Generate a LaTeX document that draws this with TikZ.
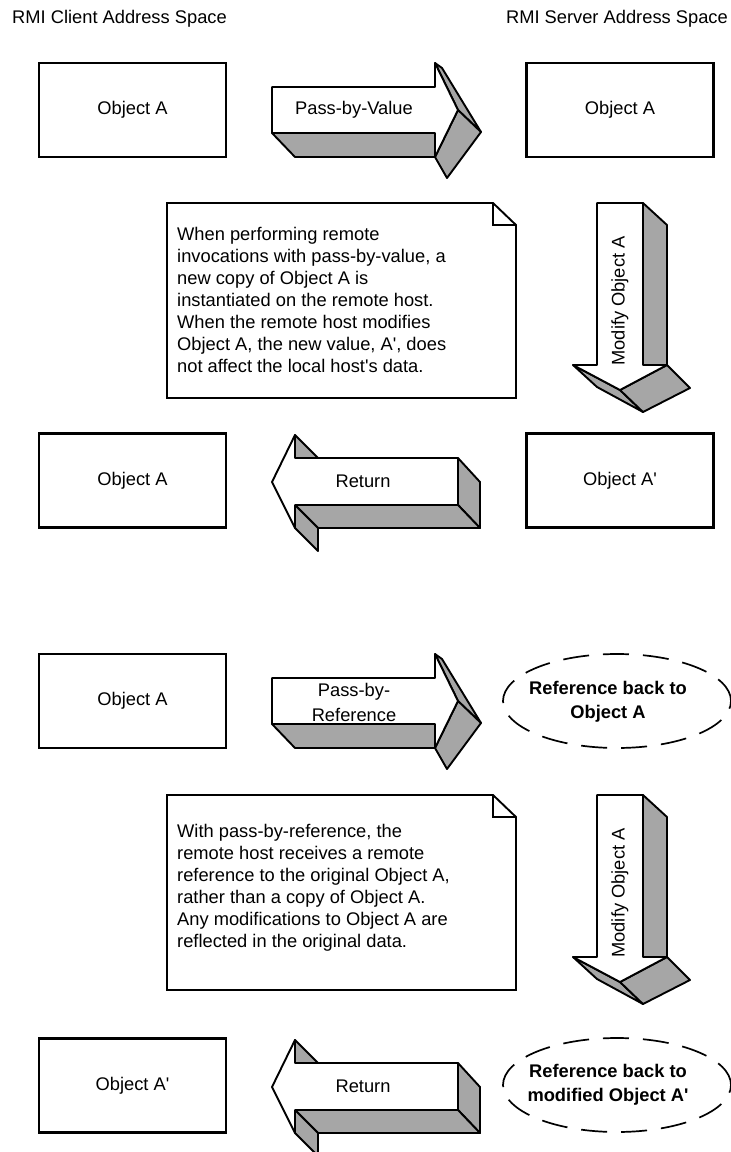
\documentclass[tikz,border=0pt]{standalone}
\usepackage{fontspec}
\setmainfont{Liberation Sans}
\usetikzlibrary{shapes.geometric}
\definecolor{shade}{RGB}{166,166,166}
\newcommand\sq{\textquotesingle}
\tikzset{
  every node/.style={font=\fontsize{18.3pt}{22pt}\selectfont},
  objbox/.style={draw, line width=2.6pt, minimum width=187pt, minimum height=94pt, inner sep=0pt},
  face/.style={fill=shade, draw=black, line width=1.9pt, line join=round},
  frontface/.style={fill=white, draw=black, line width=1.9pt, line join=round},
  notebox/.style={fill=white, draw=black, line width=1.9pt, line join=miter},
  notetext/.style={anchor=west, align=left, inner sep=0pt},
  refell/.style={ellipse, draw, line width=1.7pt, dash pattern=on 26pt off 14pt, minimum width=228pt, minimum height=94pt, inner sep=0pt},
  reftext/.style={align=center, inner sep=0pt, font=\fontsize{18.3pt}{24pt}\selectfont\bfseries},
  twoline/.style={align=center, inner sep=0pt, font=\fontsize{18.3pt}{25pt}\selectfont}
}
\newcommand\myRarrow[1]{%
  \begin{scope}[shift={#1}]
    \filldraw[face] (0,46)--(163,46)--(163,70)--(23,70)--cycle;
    \filldraw[face] (163,-24)--(186,23)--(209,45)--(170,-19)--cycle;
    \filldraw[face] (186,23)--(163,70)--(175,91)--(209,45)--cycle;
    \filldraw[frontface] (0,0)--(163,0)--(163,-24)--(186,23)--(163,70)--(163,46)--(0,46)--cycle;
  \end{scope}}
\newcommand\myDarrow[1]{%
  \begin{scope}[shift={#1}]
    \filldraw[face] (46,0)--(70,22)--(70,162)--(46,162)--cycle;
    \filldraw[face] (-24,162)--(23,187)--(46,209)--(0,184)--cycle;
    \filldraw[face] (23,187)--(70,162)--(93,185)--(46,209)--cycle;
    \filldraw[frontface] (0,0)--(46,0)--(46,162)--(70,162)--(23,187)--(-24,162)--(0,162)--cycle;
  \end{scope}}
\newcommand\myLarrow[1]{%
  \begin{scope}[shift={#1}]
    \filldraw[face] (163,0)--(185,24)--(185,70)--(163,47)--cycle;
    \filldraw[face] (0,47)--(163,47)--(185,70)--(23,70)--cycle;
    \filldraw[face] (0,-23)--(23,0)--(0,0)--cycle;
    \filldraw[face] (0,47)--(23,70)--(23,93)--(0,70)--cycle;
    \filldraw[frontface] (0,0)--(163,0)--(163,47)--(0,47)--(0,70)--(-23,24)--(0,-23)--cycle;
  \end{scope}}
\newcommand\mynote[2]{%
  \begin{scope}[shift={#1}]
    \filldraw[notebox] (0,0)--(326,0)--(349,22)--(349,#2)--(0,#2)--cycle;
    \draw[line width=1.9pt] (326,0)--(326,22)--(349,22);
  \end{scope}}
\begin{document}
\begin{tikzpicture}[x=1pt,y=-1pt]
\useasboundingbox (0,0) rectangle (731,1152);
% titles
\node[anchor=base west, inner sep=0pt] (tl) at (12,23) {RMI Client Address Space};
\node[anchor=base east, inner sep=0pt] (tr) at (728,23) {RMI Server Address Space};
% ---------- pass by value ----------
\node[objbox] (a1) at (132.5,110) {Object A};
\node[objbox] (b1) at (620,110) {Object A};
\myRarrow{(272,87)}
\node (pv) at (354,110) {Pass-by-Value};
\mynote{(167,203)}{195}
\node[notetext] (n1) at (177,300) {When performing remote\\invocations with pass-by-value, a\\new copy of Object A is\\instantiated on the remote host.\\When the remote host modifies\\Object A, the new value, A\sq, does\\not affect the local host\sq s data.};
\myDarrow{(597,203)}
\node[rotate=90, inner sep=0pt] (m1) at (620,301) {Modify Object A};
\node[objbox] (a2) at (132.5,480.5) {Object A};
\node[objbox] (b2) at (620,480.5) {Object A\sq};
\myLarrow{(295,458)}
\node (r1) at (363,481) {Return};
% ---------- pass by reference ----------
\node[objbox] (a3) at (132.5,701) {Object A};
\myRarrow{(272,678)}
\node[twoline] (pr) at (354,702) {Pass-by-\\Reference};
\node[refell] (e1) at (617,701) {};
\node[reftext] (e1t) at (608,702) {Reference back to\\Object A};
\mynote{(167,795)}{195}
\node[notetext] (n2) at (177,888) {With pass-by-reference, the\\remote host receives a remote\\reference to the original Object A,\\rather than a copy of Object A.\\Any modifications to Object A are\\reflected in the original data.};
\myDarrow{(597,795)}
\node[rotate=90, inner sep=0pt] (m2) at (620,893) {Modify Object A};
\node[objbox] (a4) at (132.5,1085.5) {Object A\sq};
\myLarrow{(295,1063)}
\node (r2) at (363,1086) {Return};
\node[refell] (e2) at (617,1085) {};
\node[reftext] (e2t) at (608,1085) {Reference back to\\modified Object A\sq};
\end{tikzpicture}
\end{document}
